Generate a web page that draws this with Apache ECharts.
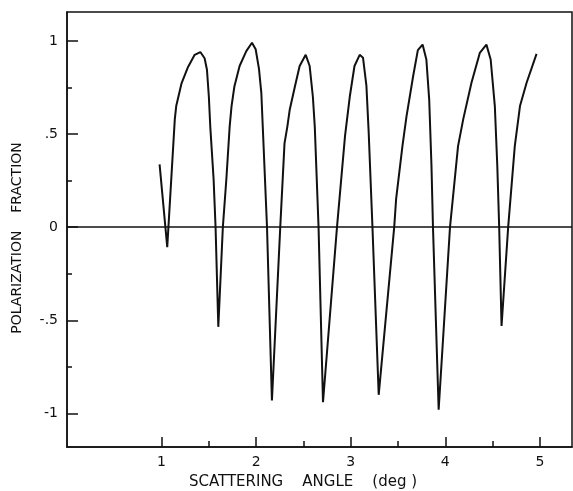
<!DOCTYPE html>
<html>
<head>
<meta charset="utf-8">
<title>Polarization fraction</title>
<script src="https://cdn.jsdelivr.net/npm/echarts@6/dist/echarts.min.js"></script>
<style>
    html, body {margin: 0; padding: 0; background: #fff;}
    #chart {width: 573px; height: 491px;}
</style>
</head>
<body>
<div id="chart"></div>
<script>
// scattering angle (deg)
var angle = [0.979, 1.06, 1.14, 1.155, 1.21, 1.28, 1.35, 1.41, 1.455, 1.48, 1.50, 1.515, 1.55, 1.571, 1.60,
    1.648, 1.685, 1.72, 1.74, 1.77, 1.825, 1.896, 1.956, 1.995, 2.03, 2.055, 2.07, 2.115, 2.167,
    2.255, 2.30, 2.33, 2.355, 2.41, 2.46, 2.524, 2.566, 2.60, 2.62, 2.66, 2.707,
    2.855, 2.94, 2.99, 3.04, 3.095, 3.13, 3.166, 3.19, 3.23, 3.296,
    3.46, 3.48, 3.547, 3.59, 3.66, 3.71, 3.76, 3.80, 3.83, 3.854, 3.87, 3.93,
    4.05, 4.135, 4.19, 4.277, 4.365, 4.435, 4.48, 4.524, 4.55, 4.57, 4.595,
    4.665, 4.735, 4.79, 4.86, 4.965];
// polarization fraction
var polarization = [0.337, -0.107, 0.58, 0.65, 0.77, 0.86, 0.925, 0.94, 0.907, 0.845, 0.70, 0.54, 0.26, 0, -0.535,
    0, 0.257, 0.54, 0.65, 0.755, 0.865, 0.945, 0.99, 0.955, 0.85, 0.72, 0.54, 0, -0.93,
    0, 0.45, 0.54, 0.63, 0.755, 0.865, 0.925, 0.865, 0.70, 0.54, 0, -0.94,
    0, 0.49, 0.70, 0.865, 0.925, 0.91, 0.76, 0.51, 0, -0.90,
    0, 0.15, 0.435, 0.595, 0.81, 0.95, 0.98, 0.90, 0.685, 0.33, 0, -0.98,
    0, 0.435, 0.58, 0.775, 0.935, 0.98, 0.90, 0.65, 0.33, 0, -0.53,
    0, 0.435, 0.65, 0.775, 0.93];

var xMajorTicks = [1, 2, 3, 4, 5];
var xMinorTicks = [1.5, 2.5, 3.5, 4.5];
var yMajorTicks = [-1, -0.5, 0, 0.5, 1];
var yMinorTicks = [-0.75, -0.25, 0.25, 0.75];
var yTickLabels = {"-1": "-1", "-0.5": "-.5", "0": "0", "0.5": ".5", "1": "1"};

var points = [];
for (var i = 0; i < angle.length; i++) {
    points.push([angle[i], polarization[i]]);
}

var FONT = "DejaVu Sans";
var INK = "#111";

var chart = echarts.init(document.getElementById("chart"), null, {renderer: "canvas"});

var option = {
    backgroundColor: "#fff",
    animation: false,
    grid: {
        left: 67, right: 1, top: 12, bottom: 44,
        outerBoundsMode: "none",   // keep the plot box where it is
        show: true, borderColor: INK, borderWidth: 1.5
    },
    xAxis: [{
        type: "value", min: 0, max: 5.34,
        axisLine: {onZero: false, lineStyle: {color: INK, width: 1.5}},
        axisTick: {inside: true, length: 10, customValues: xMajorTicks, lineStyle: {color: INK, width: 1.5}},
        axisLabel: {customValues: xMajorTicks, margin: 8, color: INK, fontFamily: FONT, fontSize: 14},
        splitLine: {show: false},
        name: "SCATTERING    ANGLE    (deg )",
        nameLocation: "middle",
        nameGap: 28,
        nameTextStyle: {color: INK, fontFamily: FONT, fontSize: 15, padding: [0, 33, 0, 0]}
    }, {
        // minor ticks only
        type: "value", min: 0, max: 5.34, position: "bottom",
        axisLine: {show: false, onZero: false},
        axisTick: {inside: true, length: 6, customValues: xMinorTicks, lineStyle: {color: INK, width: 1.5}},
        axisLabel: {show: false},
        splitLine: {show: false}
    }],
    yAxis: [{
        type: "value", min: -1.18, max: 1.155,
        axisLine: {onZero: false, lineStyle: {color: INK, width: 1.5}},
        axisTick: {inside: true, length: 11, customValues: yMajorTicks, lineStyle: {color: INK, width: 1.5}},
        axisLabel: {
            customValues: yMajorTicks, margin: 9, color: INK, fontFamily: FONT, fontSize: 14,
            formatter: function (v) {
                return yTickLabels[String(v)];
            }
        },
        splitLine: {show: false},
        name: "POLARIZATION    FRACTION",
        nameLocation: "middle",
        nameGap: 43,
        nameTextStyle: {color: INK, fontFamily: FONT, fontSize: 14, padding: [0, 17, 0, 0]}
    }, {
        // minor ticks only
        type: "value", min: -1.18, max: 1.155, position: "left",
        axisLine: {show: false, onZero: false},
        axisTick: {inside: true, length: 5, customValues: yMinorTicks, lineStyle: {color: INK, width: 1.5}},
        axisLabel: {show: false},
        splitLine: {show: false}
    }],
    series: [{
        type: "line",
        data: points,
        showSymbol: false,
        smooth: false,
        lineStyle: {color: INK, width: 2},
        markLine: {
            silent: true,
            symbol: "none",
            label: {show: false},
            lineStyle: {color: INK, width: 1.5, type: "solid"},
            data: [{yAxis: 0}]
        }
    }]
};
chart.setOption(option);
</script>
</body>
</html>
